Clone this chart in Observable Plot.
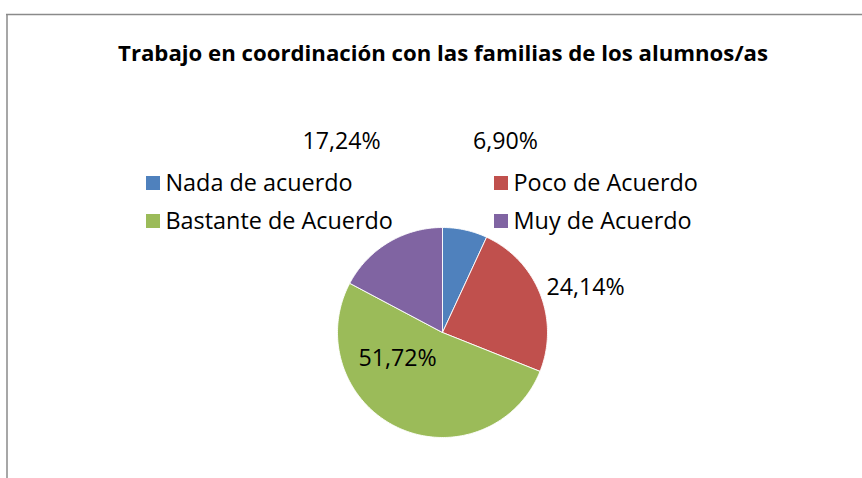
<!DOCTYPE html>
<html>
<head>
<meta charset="utf-8">
<script src="https://cdn.jsdelivr.net/npm/d3@7"></script>
<script src="https://cdn.jsdelivr.net/npm/@observablehq/plot@0.6"></script>
<style>
  html, body { margin: 0; padding: 0; background: #fff; }
  #chart svg { display: block; }
</style>
</head>
<body>
<div id="chart"></div>
<script>
// ---- data ----
const title = "Trabajo en coordinación con las familias de los alumnos/as";
const categories = ["Nada de acuerdo", "Poco de Acuerdo", "Bastante de Acuerdo", "Muy de Acuerdo"];
const values = [6.90, 24.14, 51.72, 17.24];
const labels = ["6,90%", "24,14%", "51,72%", "17,24%"];
const colors = ["#4F81BD", "#C0504D", "#9BBB59", "#8064A2"];

// ---- layout ----
const W = 862, H = 478;
const cx = 442, cy = 332, R = 105;
const FONT = "'Open Sans', Lato, sans-serif";

// pie geometry from the data
const pie = d3.pie().sort(null).value(d => d.value)(
  categories.map((c, i) => ({category: c, value: values[i], label: labels[i]}))
);
const slicePts = [];
pie.forEach(p => {
  const cat = p.data.category;
  slicePts.push({category: cat, x: cx, y: cy});
  const n = Math.max(2, Math.ceil((p.endAngle - p.startAngle) / (Math.PI / 180)));
  for (let k = 0; k <= n; k++) {
    const a = p.startAngle + (p.endAngle - p.startAngle) * k / n;
    slicePts.push({category: cat, x: cx + R * Math.sin(a), y: cy - R * Math.cos(a)});
  }
  slicePts.push({category: cat, x: cx, y: cy});
});

// data label placement (like the manually placed Excel labels)
const labelPos = {
  "Nada de acuerdo": [505, 141],
  "Poco de Acuerdo": [585, 287],
  "Bastante de Acuerdo": [397, 358],
  "Muy de Acuerdo": [341, 141]
};
const labelData = pie.map(p => ({label: p.data.label, x: labelPos[p.data.category][0], y: labelPos[p.data.category][1]}));

// legend layout: 2 columns x 2 rows
const legendData = categories.map((c, i) => ({
  category: c,
  x: i % 2 === 0 ? 146 : 494,
  y: i < 2 ? 183 : 221
}));

const color = {domain: categories, range: colors};

const chart = Plot.plot({
  width: W, height: H,
  margin: 0,
  x: {domain: [0, W], range: [0, W], axis: null},
  y: {domain: [0, H], range: [0, H], axis: null},
  color,
  style: {fontFamily: FONT, background: "#fff"},
  marks: [
    // chart frame
    Plot.ruleY([14], {x1: 6, x2: W, stroke: "#8a8a8a", strokeWidth: 1.5}),
    Plot.ruleX([6.5], {y1: 14, y2: H, stroke: "#8a8a8a", strokeWidth: 1.5}),
    // slices
    Plot.line(slicePts, {x: "x", y: "y", z: "category", fill: "category", stroke: "#fff", strokeWidth: 1, strokeOpacity: 0.9, curve: "linear"}),
    // title
    Plot.text([title], {x: () => 442.5, y: () => 53, text: d => d, fontSize: 22.2, fontWeight: "bold", fill: "#000"}),
    // legend
    Plot.rect(legendData, {x1: d => d.x, x2: d => d.x + 14, y1: d => d.y - 7, y2: d => d.y + 7, fill: "category"}),
    Plot.text(legendData, {x: d => d.x + 19, y: "y", text: "category", textAnchor: "start", fontSize: 23.4, fill: "#000"}),
    // data labels
    Plot.text(labelData, {x: "x", y: "y", text: "label", fontSize: 23.2, fill: "#000"})
  ]
});
document.getElementById("chart").appendChild(chart);
</script>
</body>
</html>
